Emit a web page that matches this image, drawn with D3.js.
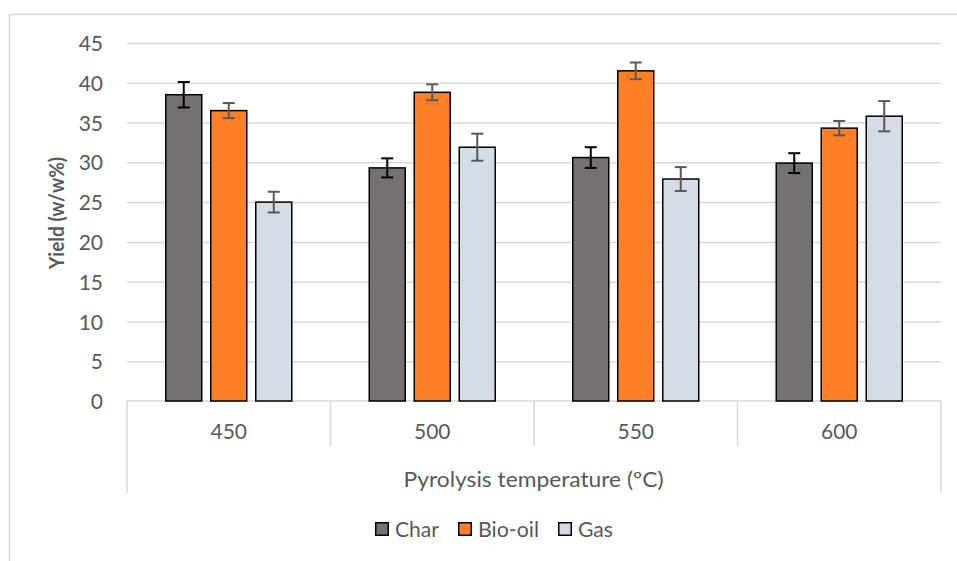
<!DOCTYPE html>
<html><head><meta charset="utf-8">
<script src="https://cdn.jsdelivr.net/npm/d3@7"></script>
<style>
html,body{margin:0;padding:0;background:#fff;}
svg{display:block;}
text{font-family:Lato, "Open Sans", sans-serif;}
</style></head>
<body>
<svg id="chart" width="957" height="561"></svg>
<script>
const categories = ["450", "500", "550", "600"];
const seriesNames = ["Char", "Bio-oil", "Gas"];
const charValues = [38.5, 29.3, 30.6, 29.9];
const charErrors = [1.6, 1.2, 1.3, 1.25];
const bioOilValues = [36.5, 38.8, 41.5, 34.3];
const bioOilErrors = [0.95, 1.0, 1.05, 0.9];
const gasValues = [25.0, 31.9, 27.9, 35.8];
const gasErrors = [1.3, 1.7, 1.5, 1.9];
const yTicks = [0, 5, 10, 15, 20, 25, 30, 35, 40, 45];
const xTitle = "Pyrolysis temperature (ºC)";
const yTitle = "Yield (w/w%)";

const fills = ["#767171", "#FF7F27", "#D6DCE5"];
const errColors = ["#000000", "#595959", "#595959"];
const series = [
  {name: seriesNames[0], values: charValues, errors: charErrors},
  {name: seriesNames[1], values: bioOilValues, errors: bioOilErrors},
  {name: seriesNames[2], values: gasValues, errors: gasErrors}
];

const svg = d3.select("#chart");
const textColor = "#595959";
const gridColor = "#D9D9D9";
const fs = "21px";

// outer chart border
svg.append("rect").attr("x", 9.5).attr("y", 14.5).attr("width", 960).attr("height", 560)
  .attr("fill", "none").attr("stroke", gridColor).attr("stroke-width", 1.5);

const pLeft = 127, pRight = 941, pTop = 43, pBottom = 401;
const x = d3.scaleBand().domain(categories).range([pLeft, pRight]).paddingInner(0).paddingOuter(0);
const y = d3.scaleLinear().domain([0, 45]).range([pBottom, pTop]);
const inner = d3.scaleBand().domain(seriesNames).range([0, x.bandwidth()]).paddingInner(0.2).paddingOuter(0.861);

// gridlines
const yAxis = d3.axisLeft(y).tickValues(yTicks).tickSize(-(pRight - pLeft)).tickPadding(24).tickFormat(d3.format("d"));
const gy = svg.append("g").attr("transform", `translate(${pLeft},0)`).call(yAxis);
gy.select(".domain").remove();
gy.selectAll(".tick line").attr("stroke", gridColor).attr("stroke-width", 1.5)
  .attr("display", d => d === 0 ? "none" : null);
gy.selectAll(".tick text").attr("fill", textColor).style("font-size", fs).attr("dy", "0.36em");

// category axis lines
const axisG = svg.append("g");
axisG.append("line").attr("x1", pLeft).attr("x2", pRight).attr("y1", pBottom).attr("y2", pBottom)
  .attr("stroke", gridColor).attr("stroke-width", 1.5);
const bounds = categories.map(c => x(c)).concat([pRight]);
bounds.forEach((b, i) => {
  const outer = i === 0 || i === bounds.length - 1;
  axisG.append("line").attr("x1", b).attr("x2", b).attr("y1", pBottom).attr("y2", outer ? 493 : 446)
    .attr("stroke", gridColor).attr("stroke-width", 1.5);
});
axisG.selectAll("text.cat").data(categories).enter().append("text")
  .attr("x", d => x(d) + x.bandwidth() / 2).attr("y", 431).attr("dy", "0.36em")
  .attr("text-anchor", "middle").attr("fill", textColor).style("font-size", fs).text(d => d);

svg.append("text").attr("x", (pLeft + pRight) / 2 - 0.5).attr("y", 479).attr("dy", "0.36em")
  .attr("text-anchor", "middle").attr("fill", textColor).style("font-size", fs)
  .attr("textLength", 260).attr("lengthAdjust", "spacingAndGlyphs").text(xTitle);

svg.append("text").attr("transform", `translate(64,213) rotate(-90)`)
  .attr("text-anchor", "middle").attr("fill", textColor).style("font-size", "21px").style("font-weight", "bold")
  .attr("textLength", 112).attr("lengthAdjust", "spacingAndGlyphs").text(yTitle);

// bars
series.forEach((s, si) => {
  const g = svg.append("g");
  g.selectAll("rect").data(categories).enter().append("rect")
    .attr("x", d => x(d) + inner(s.name))
    .attr("y", (d, i) => y(s.values[i]))
    .attr("width", inner.bandwidth())
    .attr("height", (d, i) => y(0) - y(s.values[i]))
    .attr("fill", fills[si]).attr("stroke", "#000").attr("stroke-width", 1.5);
  const cx = (d) => x(d) + inner(s.name) + inner.bandwidth() / 2;
  const eg = svg.append("g").attr("stroke", errColors[si]).attr("stroke-width", 2);
  categories.forEach((d, i) => {
    const hi = y(s.values[i] + s.errors[i]), lo = y(s.values[i] - s.errors[i]);
    eg.append("line").attr("x1", cx(d)).attr("x2", cx(d)).attr("y1", hi).attr("y2", lo);
    eg.append("line").attr("x1", cx(d) - 6).attr("x2", cx(d) + 6).attr("y1", hi).attr("y2", hi);
    eg.append("line").attr("x1", cx(d) - 6).attr("x2", cx(d) + 6).attr("y1", lo).attr("y2", lo);
  });
});

// legend
const legendX = [375, 458, 558];
const legendW = [44, 61, 35];
const lg = svg.append("g");
seriesNames.forEach((n, i) => {
  lg.append("rect").attr("x", legendX[i] + 0.75).attr("y", 522.75).attr("width", 12.5).attr("height", 12.5)
    .attr("fill", fills[i]).attr("stroke", "#000").attr("stroke-width", 1.5);
  lg.append("text").attr("x", legendX[i] + 20).attr("y", 529.5).attr("dy", "0.36em")
    .attr("fill", textColor).style("font-size", fs)
    .attr("textLength", legendW[i]).attr("lengthAdjust", "spacingAndGlyphs").text(n);
});
</script>
</body></html>
